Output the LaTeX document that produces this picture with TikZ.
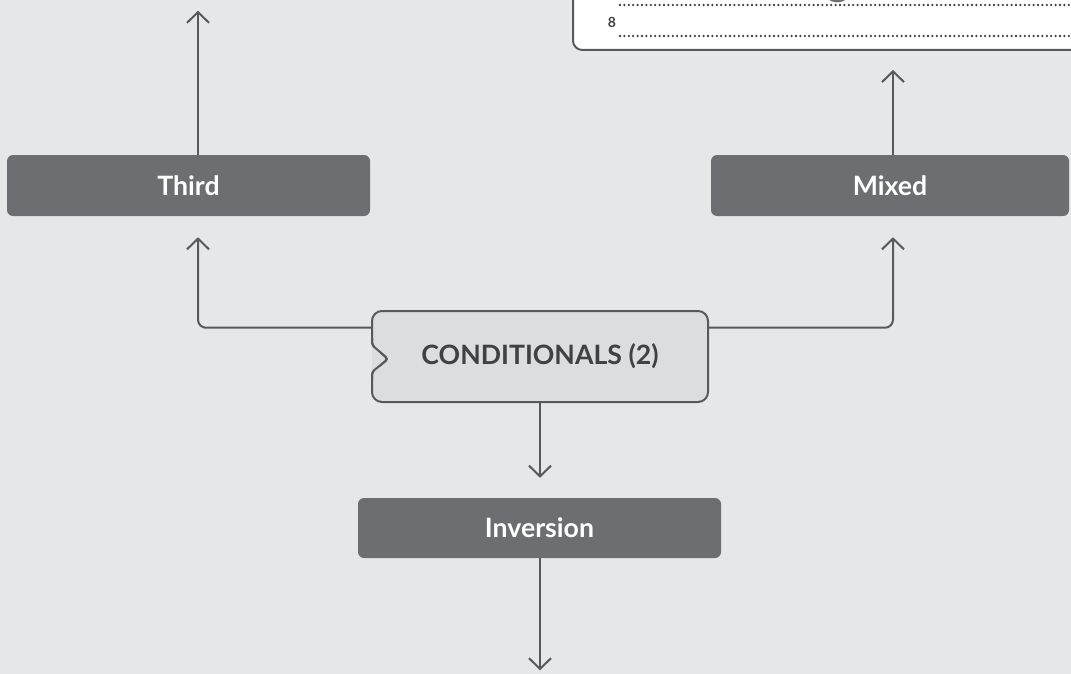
\documentclass[tikz,border=0pt]{standalone}
\usepackage{fontspec}
\setmainfont{Lato}
\usetikzlibrary{arrows.meta,calc}
\definecolor{bg}{HTML}{E6E7E8}
\definecolor{darkbox}{HTML}{6D6E71}
\definecolor{lightbox}{HTML}{DCDDDF}
\definecolor{linec}{HTML}{58595B}
\definecolor{textc}{HTML}{414042}
\tikzset{
  darkstep/.style={fill=darkbox, rounded corners=4.5pt, text=white, font=\bfseries\fontsize{20}{24}\selectfont, inner sep=0pt},
  arr/.style={draw=linec, line width=1.5pt, -{Straight Barb[length=8pt,width=16.5pt,line width=1.5pt]}},
  dotline/.style={draw=textc, line width=1.9pt, line cap=round, dash pattern=on 0pt off 3.3pt},
}
\begin{document}
\begin{tikzpicture}[x=0.75pt,y=-0.75pt]
\fill[bg] (0,0) rectangle (1071,674);
\useasboundingbox (0,0) rectangle (1071,674);
% sheet at top right
\draw[fill=white, draw=linec, line width=1.5pt, rounded corners=7pt] (573,-40) -- (573,50) -- (1100,50) -- (1100,-40);
\node[text=darkbox, font=\fontsize{34}{34}\selectfont, anchor=base] (gfrag) at (838,-5) {g};
\draw[dotline] (620,5) -- (1071,5);
\draw[dotline] (620,36) -- (1071,36);
\node[text=textc, font=\bfseries\fontsize{10.5}{12}\selectfont] (num) at (612,22) {8};
\coordinate (sheetb) at (893,50);
% boxes
\node[darkstep, minimum width=363*0.75pt, minimum height=61*0.75pt] (third) at (188.5,185.5) {Third};
\node[darkstep, minimum width=358*0.75pt, minimum height=61*0.75pt] (mixed) at (890,185.5) {Mixed};
\node[darkstep, minimum width=363*0.75pt, minimum height=60*0.75pt] (inv) at (539.5,528) {Inversion};
\node[minimum width=336*0.75pt, minimum height=91*0.75pt, inner sep=0pt] (cond) at (540,356.5) {};
\draw[fill=lightbox, draw=linec, line width=1.5pt, rounded corners=7.5pt]
  (372,340) -- (372,311) -- (708,311) -- (708,402) -- (372,402) -- (372,378);
\draw[fill=lightbox, draw=linec, line width=1.5pt, rounded corners=2pt]
  (372,378) -- (372,372) -- (388,359) -- (372,345) -- (372,338);
\fill[lightbox] (373.5,336) rectangle (380,380);
\draw[draw=linec, line width=1.5pt, rounded corners=2.5pt]
  (372,338) -- (372,345) -- (388,359) -- (372,372) -- (372,380);
\node[text=textc, font=\bfseries\fontsize{20}{24}\selectfont] (condt) at (cond.center) {CONDITIONALS (2)};
% connectors
\draw[arr, rounded corners=6pt] ($(cond.north west)+(0,17)$) -| ($(third.south)+(9.5,21)$);
\draw[arr, rounded corners=6pt] ($(cond.north east)+(0,17)$) -| ($(mixed.south)+(3,21)$);
\draw[arr] ($(third.north)+(9.5,0)$) -- ($(third.north)+(9.5,-144)$);
\draw[arr] ($(mixed.north)+(3,0)$) -- ($(sheetb)+(0,20)$);
\draw[arr] (cond.south) -- ($(inv.north)+(0.5,-20)$);
\draw[arr] ($(inv.south)+(0.5,0)$) -- ($(inv.south)+(0.5,112)$);
\end{tikzpicture}
\end{document}
